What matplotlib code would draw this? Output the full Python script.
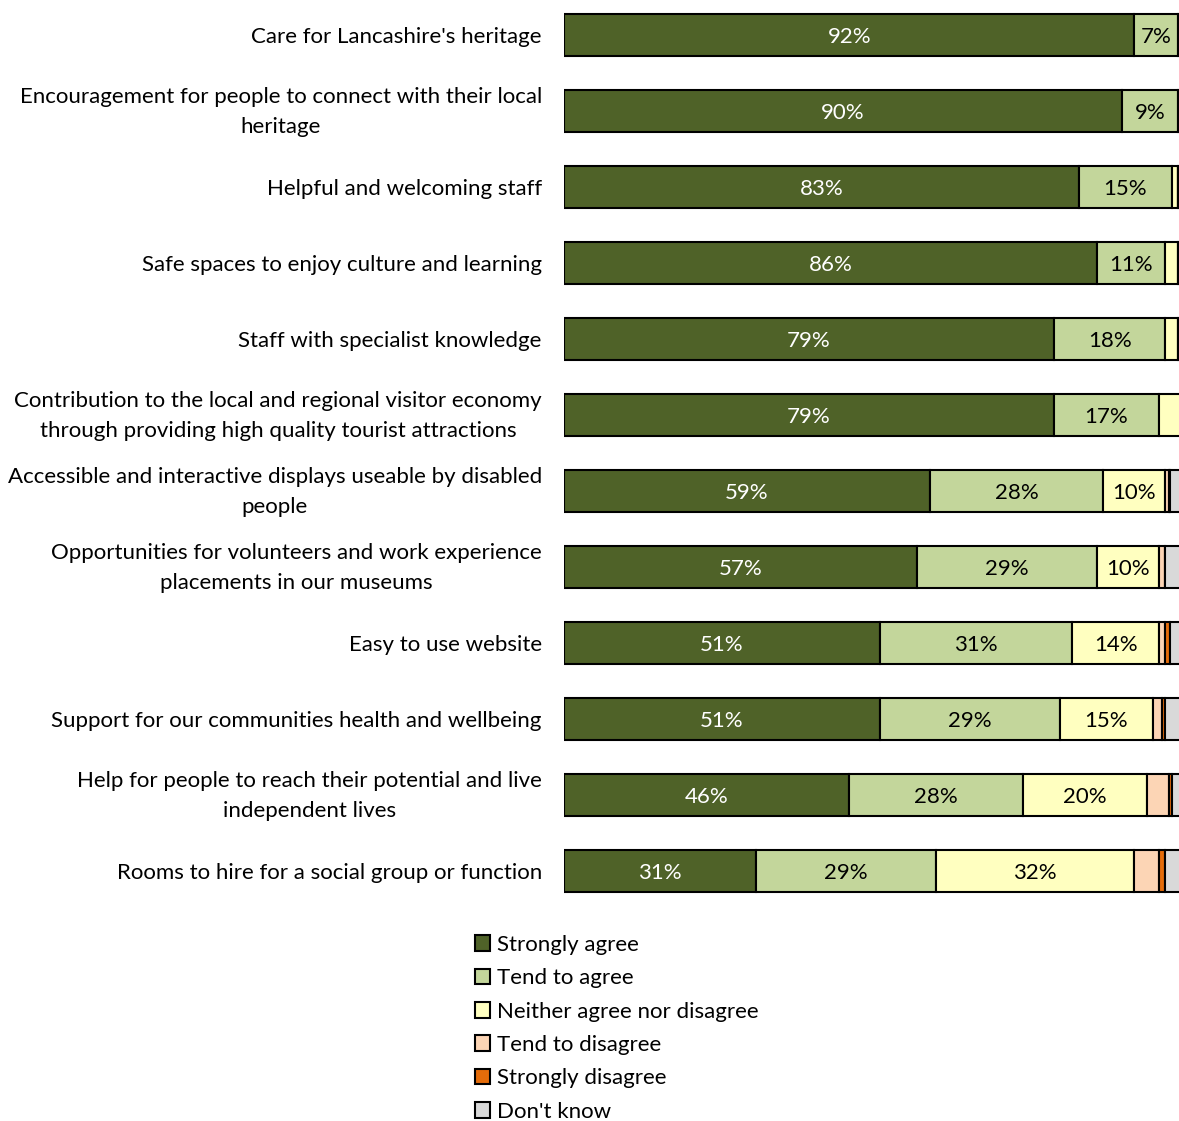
import matplotlib.pyplot as plt
import matplotlib.transforms as mtransforms
import numpy as np

# Survey statements (top to bottom)
statements = [
    "Care for Lancashire's heritage",
    "Encouragement for people to connect with their local\nheritage",
    "Helpful and welcoming staff",
    "Safe spaces to enjoy culture and learning",
    "Staff with specialist knowledge",
    "Contribution to the local and regional visitor economy\nthrough providing high quality tourist attractions",
    "Accessible and interactive displays useable by disabled\npeople",
    "Opportunities for volunteers and work experience\nplacements in our museums",
    "Easy to use website",
    "Support for our communities health and wellbeing",
    "Help for people to reach their potential and live\nindependent lives",
    "Rooms to hire for a social group or function",
]

# Percentages per response
strongly_agree = [92, 90, 83, 86, 79, 79, 59, 57, 51, 51, 46, 31]
tend_agree = [7, 9, 15, 11, 18, 17, 28, 29, 31, 29, 28, 29]
neither = [1, 1, 1, 2, 2, 4, 10, 10, 14, 15, 20, 32]
tend_disagree = [0, 0, 0, 0, 0, 0, 0.5, 1, 1, 1.5, 3.5, 4]
strongly_disagree = [0, 0, 0, 0.3, 0.3, 0, 0.3, 0, 0.7, 0.5, 0.6, 1]
dont_know = [0, 0, 1, 0.7, 0.7, 0, 2.2, 3, 2.3, 3, 1.9, 3]

series = ["Strongly agree", "Tend to agree", "Neither agree nor disagree",
          "Tend to disagree", "Strongly disagree", "Don't know"]
values = [strongly_agree, tend_agree, neither, tend_disagree, strongly_disagree, dont_know]
colors = ["#4F6228", "#C3D69B", "#FFFFC0", "#FCD5B5", "#E46C0A", "#D9D9D9"]
text_colors = ["white", "black", "black", "black", "black", "black"]

plt.rcParams['font.family'] = ['Lato', 'DejaVu Sans']

fig = plt.figure(figsize=(11.79, 11.21), dpi=100)
ax = fig.add_axes([564 / 1179, 0.189, 620 / 1179, 0.814])

y = np.arange(len(statements))
left = np.zeros(len(statements))
handles = []
for name, vals, col, tcol in zip(series, values, colors, text_colors):
    vals = np.array(vals, dtype=float)
    bars = ax.barh(y, vals, left=left, height=0.55, color=col,
                   edgecolor="black", linewidth=1.5, label=name)
    handles.append(bars)
    for yi, (l, v) in enumerate(zip(left, vals)):
        if v >= 5:
            ax.text(l + v / 2, yi, f"{v:.0f}%", ha="center", va="center_baseline",
                    color=tcol, fontsize=16)
    left += vals

ax.set_xlim(0, 100)
ax.set_ylim(len(statements) - 0.5, -0.5)
ax.set_yticks(y)
ax.set_yticklabels(statements, fontsize=16, linespacing=1.65, multialignment="center")
ax.tick_params(axis="y", length=0, pad=16)
ax.set_xticks([])
for s in ax.spines.values():
    s.set_visible(False)

# nudge two-line labels up a little so they sit centred on the bar
shift = mtransforms.ScaledTranslation(0, 6 / 100, fig.dpi_scale_trans)
for lab in ax.get_yticklabels():
    if "\n" in lab.get_text():
        lab.set_transform(lab.get_transform() + shift)

fig.legend(handles=handles, loc="upper left", bbox_to_anchor=(466 / 1179, 1 - 926 / 1121),
           frameon=False, fontsize=16, handlelength=0.7, handleheight=0.7,
           handletextpad=0.3, labelspacing=0.6, borderaxespad=0)

fig.savefig("out.png", dpi=100)
